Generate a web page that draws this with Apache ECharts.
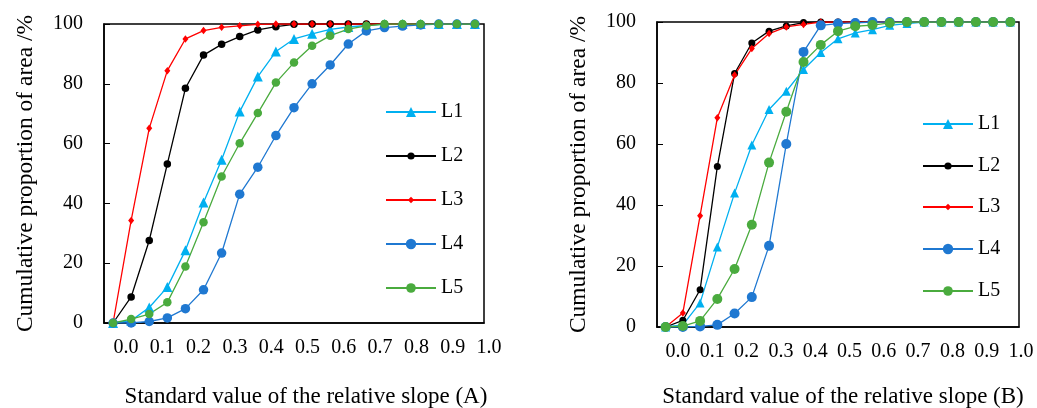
<!DOCTYPE html>
<html>
<head>
<meta charset="utf-8">
<title>Cumulative proportion of area</title>
<script src="https://cdn.jsdelivr.net/npm/echarts@6/dist/echarts.min.js"></script>
<style>
  html, body { margin: 0; padding: 0; background: #fff; }
  #chart { width: 1037px; height: 408px; }
</style>
</head>
<body>
<div id="chart"></div>
<script>
// x categories: standard value of the relative slope, step 0.05
const slopeCats = ['0.00', '0.05', '0.10', '0.15', '0.20', '0.25', '0.30', '0.35', '0.40', '0.45', '0.50',
  '0.55', '0.60', '0.65', '0.70', '0.75', '0.80', '0.85', '0.90', '0.95', '1.00'];
// tick labels printed under each panel
const xTickLabels = ['0.0', '0.1', '0.2', '0.3', '0.4', '0.5', '0.6', '0.7', '0.8', '0.9', '1.0'];
const seriesNames = ['L1', 'L2', 'L3', 'L4', 'L5'];

// panel (A)
const a_L1 = [0, 0.8, 5.2, 12, 24.3, 40.3, 54.6, 70.7, 82.4, 90.8, 95, 96.7, 98.2, 99, 99.5, 100, 100, 100, 100, 100, 100];
const a_L2 = [0, 8.7, 27.6, 53.2, 78.5, 89.6, 93.2, 95.8, 98, 99.1, 99.9, 100, 100, 100, 100, 100, 100, 100, 100, 100, 100];
const a_L3 = [0, 34.3, 65.1, 84.4, 95, 97.8, 98.9, 99.4, 99.9, 100, 100, 100, 100, 100, 100, 100, 100, 100, 100, 100, 100];
const a_L4 = [0, 0, 0.5, 1.7, 4.8, 11.1, 23.4, 43.1, 52.1, 62.7, 72, 80, 86.3, 93.3, 97.7, 98.8, 99.3, 99.7, 100, 100, 100];
const a_L5 = [0, 1.3, 3, 6.9, 18.9, 33.7, 49, 60.1, 70.2, 80.4, 87.1, 92.7, 96.1, 98.3, 99.4, 100, 100, 100, 100, 100, 100];

// panel (B)
const b_L1 = [0, 0.7, 7.9, 26.2, 43.9, 59.7, 71.3, 77.3, 84.4, 90, 94.5, 96.4, 97.5, 98.9, 99.5, 100, 100, 100, 100, 100, 100];
const b_L2 = [0, 2.2, 12.2, 52.6, 83.1, 93.1, 97, 98.7, 99.8, 100, 100, 100, 100, 100, 100, 100, 100, 100, 100, 100, 100];
const b_L3 = [0, 4.6, 36.5, 68.6, 82.6, 91.3, 96.2, 98.4, 99.2, 100, 100, 100, 100, 100, 100, 100, 100, 100, 100, 100, 100];
const b_L4 = [0, 0, 0.2, 0.7, 4.4, 9.8, 26.6, 60, 90.2, 98.9, 99.5, 99.7, 100, 100, 100, 100, 100, 100, 100, 100, 100];
const b_L5 = [0, 0.3, 2, 9.2, 19, 33.5, 53.9, 70.6, 86.9, 92.5, 97, 98.6, 99, 99.7, 100, 100, 100, 100, 100, 100, 100];

const FONT = '"Liberation Serif", "Times New Roman", serif';
const colors = ['#00b0f0', '#000000', '#ff0000', '#1f78d1', '#4aab3e'];
const symbols = ['triangle', 'circle', 'diamond', 'circle', 'circle'];
const sizesA = [10, 7.5, [6, 7.5], 9.5, 8.5];
const sizesB = [9, 7, [6, 7.5], 10, 10];
const legendIconH = [12.5, 9, 8, 13, 12];

// plot boxes
const panels = [
  { left: 104, top: 24, width: 380, height: 299, tickEvery: 1, labLeft: 126, labWidth: 363,
    data: [a_L1, a_L2, a_L3, a_L4, a_L5], sizes: sizesA, gap: 66,
    legLeft: 385, legRows: [112, 156, 200, 244, 288], title: 'Standard value of the relative slope (A)', titleX: 301 },
  { left: 657, top: 22, width: 362, height: 305, tickEvery: 0, labLeft: 678, labWidth: 343,
    data: [b_L1, b_L2, b_L3, b_L4, b_L5], sizes: sizesB, gap: 66,
    legLeft: 922, legRows: [124, 166, 207, 249, 291], title: 'Standard value of the relative slope (B)', titleX: 838 }
];

const grid = [], xAxis = [], yAxis = [], series = [], legend = [], title = [];

panels.forEach((p, i) => {
  // plot grid with a black frame
  grid.push({ left: p.left, top: p.top, width: p.width, height: p.height,
    show: true, borderColor: '#000', borderWidth: 1.5, containLabel: false });
  xAxis.push({
    type: 'category', gridIndex: i, data: slopeCats, boundaryGap: true,
    axisLine: { lineStyle: { color: '#000', width: 1.5 } },
    axisTick: { inside: true, length: 5, interval: p.tickEvery, lineStyle: { color: '#000', width: 1 } },
    axisLabel: { show: false }, splitLine: { show: false }
  });
  yAxis.push({
    type: 'value', gridIndex: i, min: 0, max: 100, interval: 20,
    name: 'Cumulative proportion of area /%', nameLocation: 'middle', nameGap: p.gap,
    nameTextStyle: { fontFamily: FONT, fontSize: 23.5, color: '#000' },
    axisLine: { show: true, lineStyle: { color: '#000', width: 1.5 } },
    axisTick: { show: true, inside: true, length: 6, lineStyle: { color: '#000' } },
    axisLabel: { fontFamily: FONT, fontSize: 20, color: '#000', margin: 21 },
    splitLine: { show: false }
  });
  p.data.forEach((vals, s) => {
    series.push({
      name: seriesNames[s], type: 'line', xAxisIndex: i, yAxisIndex: i,
      data: vals, symbol: symbols[s], symbolSize: p.sizes[s], showAllSymbol: true,
      itemStyle: { color: colors[s] }, lineStyle: { color: colors[s], width: 1.3 }
    });
    legend.push({
      data: [seriesNames[s]], left: p.legLeft, top: p.legRows[s] - 10, padding: 0,
      itemWidth: 50, itemHeight: legendIconH[s], selectedMode: false,
      textStyle: { fontFamily: FONT, fontSize: 20, color: '#000', lineHeight: 20 }
    });
  });
  title.push({ text: p.title, left: p.titleX, top: 380, textAlign: 'center',
    textStyle: { fontFamily: FONT, fontSize: 23, fontWeight: 'normal', color: '#000' } });
});

// label strips: the printed 0.0 ... 1.0 labels sit offset from the ticks
panels.forEach((p, i) => {
  const g = grid.length;
  grid.push({ left: p.labLeft, top: p.top, width: p.labWidth, height: p.height, show: false });
  xAxis.push({
    type: 'category', gridIndex: g, data: xTickLabels, boundaryGap: false,
    axisLine: { show: false }, axisTick: { show: false },
    axisLabel: { interval: 0, fontFamily: FONT, fontSize: 20, color: '#000', margin: 15 }
  });
  yAxis.push({ type: 'value', gridIndex: g, show: false });
});

const chart = echarts.init(document.getElementById('chart'));
chart.setOption({
  backgroundColor: '#fff',
  animation: false,
  title: title,
  legend: legend,
  grid: grid,
  xAxis: xAxis,
  yAxis: yAxis,
  series: series
});
</script>
</body>
</html>
